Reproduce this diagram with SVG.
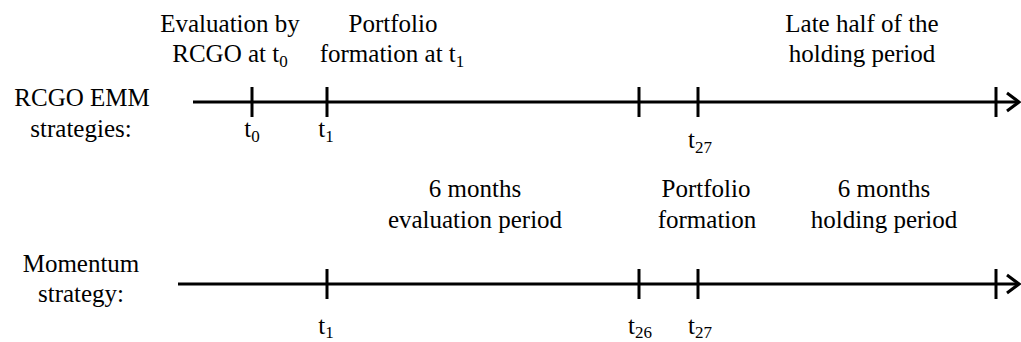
<svg xmlns="http://www.w3.org/2000/svg" width="1021" height="342" viewBox="0 0 1021 342">
<style>
text{font-family:"Liberation Serif","Times New Roman",Times,Tinos,"Nimbus Roman","Nimbus Roman No9 L","Noto Serif","DejaVu Serif",FreeSerif,serif;font-size:25px;fill:#000;text-anchor:middle}
.sub{font-size:17px}
.ln{stroke:#000;stroke-width:3;fill:none}
</style>
<rect width="1021" height="342" fill="#fff"/>
<g id="label-rcgo">
<text x="82" y="106">RCGO EMM</text>
<text x="81" y="137">strategies:</text>
</g>
<g id="label-momentum">
<text x="81" y="272">Momentum</text>
<text x="81" y="302">strategy:</text>
</g>
<g id="top-annotations">
<text x="230" y="32">Evaluation by</text>
<text x="230" y="62">RCGO at t<tspan class="sub" dy="5">0</tspan></text>
<text x="393" y="32">Portfolio</text>
<text x="392" y="62">formation at t<tspan class="sub" dy="5">1</tspan></text>
<text x="862" y="32">Late half of the</text>
<text x="862" y="62">holding period</text>
</g>
<g id="bottom-annotations">
<text x="475" y="197">6 months</text>
<text x="475" y="228">evaluation period</text>
<text x="706" y="197">Portfolio</text>
<text x="707" y="228">formation</text>
<text x="884" y="197">6 months</text>
<text x="884" y="228">holding period</text>
</g>
<g id="connectors">
<g id="timeline-rcgo">
<line class="ln" x1="193" y1="102" x2="1019" y2="102"/>
<line class="ln" x1="252" y1="87" x2="252" y2="117"/>
<line class="ln" x1="327" y1="87" x2="327" y2="117"/>
<line class="ln" x1="639" y1="87" x2="639" y2="117"/>
<line class="ln" x1="698" y1="87" x2="698" y2="117"/>
<line class="ln" x1="996" y1="87" x2="996" y2="117"/>
<polyline class="ln" points="1007,93 1019,102 1007,111"/>
</g>
<g id="timeline-momentum">
<line class="ln" x1="178" y1="284" x2="1019" y2="284"/>
<line class="ln" x1="327" y1="269" x2="327" y2="299"/>
<line class="ln" x1="639" y1="269" x2="639" y2="299"/>
<line class="ln" x1="698" y1="269" x2="698" y2="299"/>
<line class="ln" x1="996" y1="269" x2="996" y2="299"/>
<polyline class="ln" points="1007,275 1019,284 1007,293"/>
</g>
</g>
<g id="tick-labels-rcgo">
<text x="252" y="137">t<tspan class="sub" dy="5">0</tspan></text>
<text x="326" y="137">t<tspan class="sub" dy="5">1</tspan></text>
<text x="700" y="148">t<tspan class="sub" dy="5">27</tspan></text>
</g>
<g id="tick-labels-momentum">
<text x="326" y="334">t<tspan class="sub" dy="4">1</tspan></text>
<text x="640" y="334">t<tspan class="sub" dy="4">26</tspan></text>
<text x="700" y="334">t<tspan class="sub" dy="4">27</tspan></text>
</g>
</svg>
